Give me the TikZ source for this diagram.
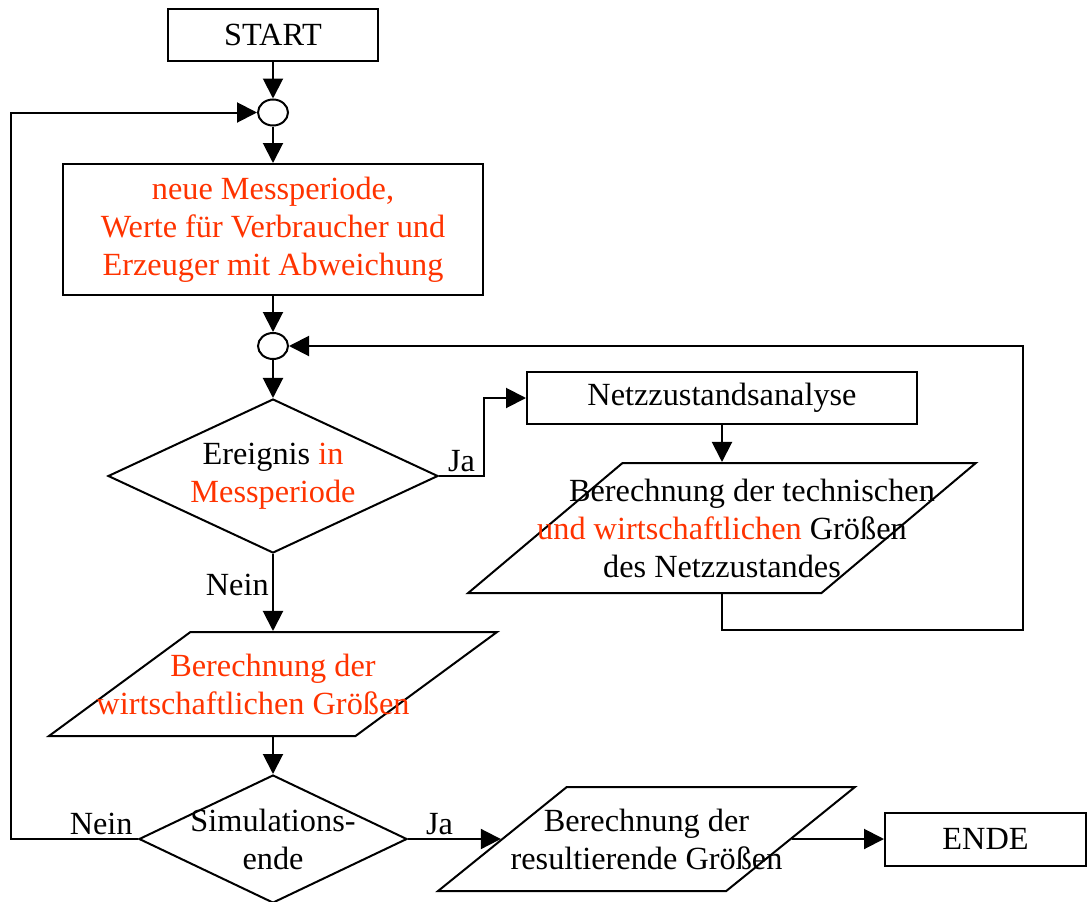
\documentclass[tikz,border=0pt]{standalone}
\usepackage{fontspec}
\setmainfont{Liberation Serif}
\usetikzlibrary{shapes.geometric,arrows.meta}
\definecolor{hotred}{RGB}{255,51,0}

\tikzset{
	box/.style={shape=rectangle,draw=black,line width=2pt,inner sep=0pt,align=center},
	junction/.style={shape=ellipse,draw=black,line width=2pt,inner sep=0pt,minimum width=30pt,minimum height=26pt},
	decision/.style={shape=diamond,draw=black,line width=2pt,inner sep=0pt,align=center},
	slanted/.style={shape=trapezium,draw=black,line width=2pt,inner sep=2pt,trapezium stretches=true},
	flow/.style={line width=2pt,-{Triangle[length=20pt,width=20pt]}}
}

\begin{document}
\begin{tikzpicture}[x=1pt,y=-1pt,font=\fontsize{32.3}{38}\selectfont]
	\useasboundingbox (0,0) rectangle (1087,902);

	\node[box,minimum width=210pt,minimum height=52pt] (start) at (273, 35)   {START};
	\node[junction] (c1) at (273, 112.5) {};
	\node[box,minimum width=420pt,minimum height=131pt,text=hotred] (mess) at (273, 229.5)
		{neue Messperiode,\\Werte für Verbraucher und\\Erzeuger mit Abweichung};
	\node[junction] (c2) at (273, 346) {};
	\node[decision,minimum width=330pt,minimum height=154pt,aspect=2.14] (ereig) at (273, 476)
		{Ereignis \textcolor{hotred}{in}\\\textcolor{hotred}{Messperiode}};
	\node[box,minimum width=390pt,minimum height=52pt] (netz) at (722, 398) {Netzzustandsanalyse};
	\node[slanted,trapezium left angle=52.2,trapezium right angle=127.8,
		minimum width=508pt,minimum height=130pt,
		label={[align=center]center:{\hspace*{60pt}Berechnung der technischen\\\textcolor{hotred}{und wirtschaftlichen} Größen\\des Netzzustandes}}]
		(calc2) at (722, 528) {};
	\node[slanted,trapezium left angle=49.4,trapezium right angle=130.6,
		minimum width=448pt,minimum height=104pt,
		label={[align=center,text=hotred]center:{Berechnung der\\wirtschaftlichen Größen\hspace*{40pt}}}]
		(wirt) at (273, 684) {};
	\node[decision,minimum width=268pt,minimum height=128pt,
		label={[align=center]center:{Simulations-\\ende}}] (sim) at (273, 839) {};
	\node[slanted,trapezium left angle=51.1,trapezium right angle=128.9,
		minimum width=417pt,minimum height=104pt,
		label={[align=center]center:{Berechnung der\\resultierende Größen}}]
		(calc3) at (646.5, 839) {};
	\node[box,minimum width=201pt,minimum height=53pt] (ende) at (985.5, 839) {ENDE};

	\coordinate (loopL) at (11, 112.5);
	\coordinate (loopR) at (1023, 630);

	\draw[flow] (start) -- (c1);
	\draw[flow] (c1) -- (mess);
	\draw[flow] (mess) -- (c2);
	\draw[flow] (c2) -- (ereig);
	\draw[flow] (ereig.east) -- node[above]{Ja} ++(45,0) |- (netz.west);
	\draw[flow] (netz) -- (calc2);
	\draw[flow] (calc2) |- (loopR) |- (c2.east);
	\draw[flow] (ereig) -- node[left,pos=0.4]{Nein} (wirt);
	\draw[flow] (wirt) -- (sim);
	\draw[flow] (sim) -- node[above,pos=0.34]{Ja} (calc3);
	\draw[flow] (calc3) -- (ende);
	\draw[flow] (sim.west) -| node[above,pos=0.145]{Nein} (loopL) -- (c1.west);

\end{tikzpicture}
\end{document}
